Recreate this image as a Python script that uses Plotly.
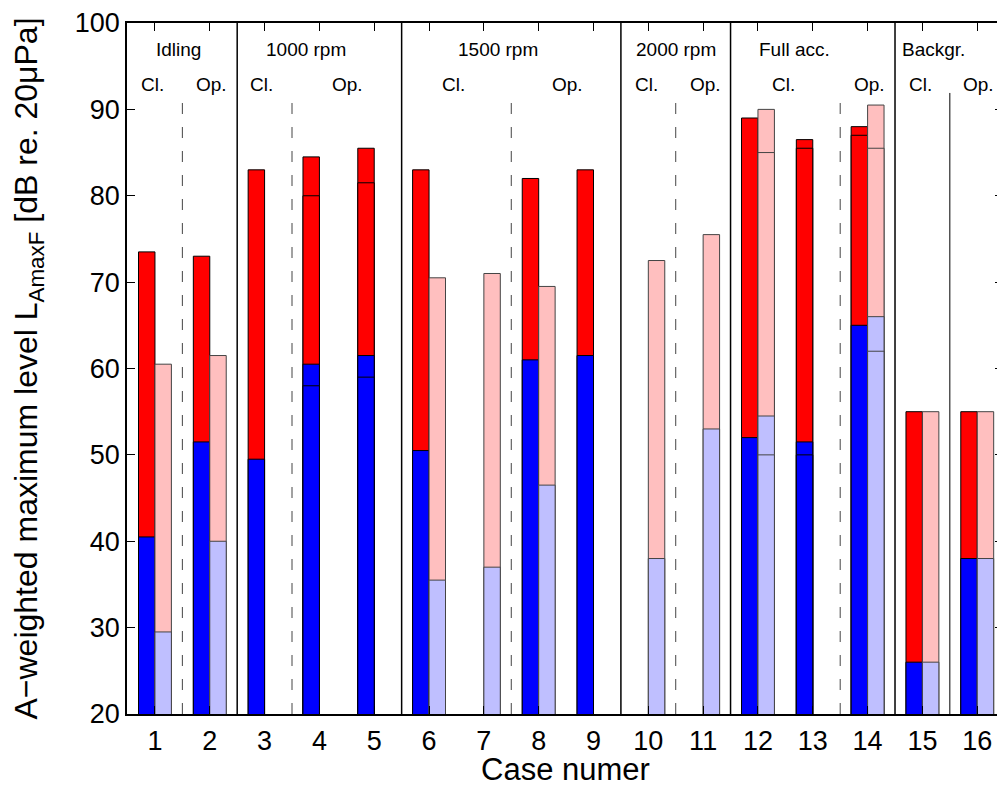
import plotly.graph_objects as go

cases = list(range(1, 17))

# Dark (closed / left) bars: red = maximum level, blue = lower level; "second" = inner lines
dark_red_top = [73.5, 73, 83, 84.5, 85.5, 83, None, 82, 83, None, None, 89, 86.5, 88, 55, 55]
dark_red_second = [None, None, None, 80, 81.5, None, None, None, None, None, None, None, 85.5, 87, None, None]
dark_blue_top = [40.5, 51.5, 49.5, 60.5, 61.5, 50.5, None, 61, 61.5, None, None, 52, 51.5, 65, 26, 38]
dark_blue_second = [None, None, None, 58, 59, None, None, None, None, None, None, None, 50, None, None, None]

# Light (right) bars
light_red_top = [60.5, 61.5, None, None, None, 70.5, 71, 69.5, None, 72.5, 75.5, 90, None, 90.5, 55, 55]
light_red_second = [None, None, None, None, None, None, None, None, None, None, None, 85, None, 85.5, None, None]
light_blue_top = [29.5, 40, None, None, None, 35.5, 37, 46.5, None, 38, 53, 54.5, None, 66, 26, 38]
light_blue_second = [None, None, None, None, None, None, None, None, None, None, None, 50, None, 62, None, None]

group_labels = ["Idling", "1000 rpm", "1500 rpm", "2000 rpm", "Full acc.", "Backgr."]
group_label_x = [1.43, 3.76, 7.25, 10.5, 12.66, 15.2]
sub_labels = ["Cl.", "Op.", "Cl.", "Op.", "Cl.", "Op.", "Cl.", "Op.", "Cl.", "Op.", "Cl.", "Op."]
sub_label_x = [0.96, 2.03, 2.94, 4.52, 6.45, 8.53, 9.96, 11.04, 12.47, 14.03, 14.96, 16.03]

solid_full = [2.5, 5.5, 9.5, 11.5, 14.5]
dashed_part = [1.5, 3.5, 7.5, 10.5, 13.5]
solid_part = [15.5]

RED, BLUE = "#FF0000", "#0000FF"
PINK, LBLUE = "#FFBFBF", "#BFBFFF"
FONT = "Liberation Sans, Arial, sans-serif"

fig = go.Figure()


def add_bar(vals, color, edge, offset):
    fig.add_trace(go.Bar(
        x=cases, y=vals, width=0.3, offset=offset,
        marker=dict(color=color, line=dict(color=edge, width=1)),
        showlegend=False, hoverinfo="x+y"))


for vals, col in [(dark_red_top, RED), (dark_red_second, RED),
                  (dark_blue_top, BLUE), (dark_blue_second, BLUE)]:
    add_bar(vals, col, "#000000", -0.3)
for vals, col in [(light_red_top, PINK), (light_red_second, PINK),
                  (light_blue_top, LBLUE), (light_blue_second, LBLUE)]:
    add_bar(vals, col, "#444444", 0.0)

shapes = []
for xv in solid_full:
    shapes.append(dict(type="line", xref="x", yref="y", x0=xv, x1=xv, y0=20, y1=100,
                       line=dict(color="black", width=1.5)))
for xv in dashed_part:
    shapes.append(dict(type="line", xref="x", yref="y", x0=xv, x1=xv, y0=20, y1=91.9,
                       line=dict(color="#444444", width=1, dash="11px,13px")))
for xv in solid_part:
    shapes.append(dict(type="line", xref="x", yref="y", x0=xv, x1=xv, y0=20, y1=91.9,
                       line=dict(color="black", width=1)))

annotations = []
for t, xv in zip(group_labels, group_label_x):
    annotations.append(dict(x=xv, y=96.9, xref="x", yref="y", text=t, showarrow=False,
                            font=dict(family=FONT, size=19, color="black")))
for t, xv in zip(sub_labels, sub_label_x):
    annotations.append(dict(x=xv, y=92.9, xref="x", yref="y", text=t, showarrow=False,
                            font=dict(family=FONT, size=19, color="black")))
# x-axis title
annotations.append(dict(x=0.5, y=-0.081, xref="paper", yref="paper", text="Case numer",
                        showarrow=False, xanchor="center", yanchor="middle",
                        font=dict(family=FONT, size=31, color="black")))

fig.update_layout(
    width=997, height=779,
    margin=dict(l=117, r=0, t=12, b=73),
    barmode="overlay",
    plot_bgcolor="white", paper_bgcolor="white",
    font=dict(family=FONT, color="black"),
    shapes=shapes, annotations=annotations,
    xaxis=dict(range=[0.49, 16.47], tickvals=cases, ticktext=[str(c) for c in cases],
               ticks="inside", ticklen=8, tickcolor="black", mirror="ticks",
               showline=True, linecolor="black", linewidth=1.5, showgrid=False,
               zeroline=False, tickfont=dict(family=FONT, size=27),
               ticklabelstandoff=2, ticklabeloverflow="allow"),
    yaxis=dict(range=[20, 100], tickvals=list(range(20, 101, 10)),
               ticks="inside", ticklen=8, tickcolor="black", mirror="ticks",
               showline=True, linecolor="black", linewidth=1.5, showgrid=False,
               zeroline=False, tickfont=dict(family=FONT, size=27),
               ticklabeloverflow="allow",
               title=dict(text="A−weighted maximum level L<sub>AmaxF</sub> [dB re. 20μPa]",
                          font=dict(family=FONT, size=32), standoff=44)),
)

fig.write_html("out.html")
